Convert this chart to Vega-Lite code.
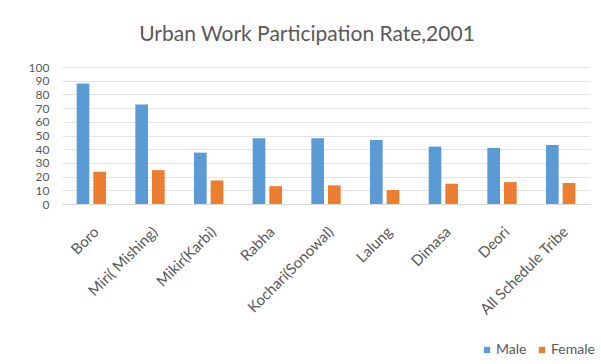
{
  "$schema": "https://vega.github.io/schema/vega-lite/v6.json",
  "autosize": {"type": "none"},
  "width": 528,
  "height": 137,
  "padding": {"left": 62, "top": 67, "right": 11, "bottom": 160},
  "background": "white",
  "title": {
    "text": "Urban Work Participation Rate,2001",
    "font": "Lato",
    "fontSize": 21,
    "fontWeight": "normal",
    "color": "#595959",
    "anchor": "middle",
    "dx": -19,
    "offset": 16
  },
  "data": {
    "values": [
      {"tribe": "Boro", "sex": "Male", "rate": 88},
      {"tribe": "Boro", "sex": "Female", "rate": 23.6},
      {"tribe": "Miri( Mishing)", "sex": "Male", "rate": 72.6},
      {"tribe": "Miri( Mishing)", "sex": "Female", "rate": 24.7},
      {"tribe": "Mikir(Karbi)", "sex": "Male", "rate": 37.5},
      {"tribe": "Mikir(Karbi)", "sex": "Female", "rate": 17.2},
      {"tribe": "Rabha", "sex": "Male", "rate": 48},
      {"tribe": "Rabha", "sex": "Female", "rate": 13},
      {"tribe": "Kochari(Sonowal)", "sex": "Male", "rate": 48},
      {"tribe": "Kochari(Sonowal)", "sex": "Female", "rate": 13.6},
      {"tribe": "Lalung", "sex": "Male", "rate": 46.8},
      {"tribe": "Lalung", "sex": "Female", "rate": 10.2},
      {"tribe": "Dimasa", "sex": "Male", "rate": 41.9},
      {"tribe": "Dimasa", "sex": "Female", "rate": 14.8},
      {"tribe": "Deori", "sex": "Male", "rate": 40.9},
      {"tribe": "Deori", "sex": "Female", "rate": 16},
      {"tribe": "All Schedule Tribe", "sex": "Male", "rate": 43.1},
      {"tribe": "All Schedule Tribe", "sex": "Female", "rate": 15.3}
    ]
  },
  "mark": {"type": "bar"},
  "encoding": {
    "x": {
      "field": "tribe",
      "type": "nominal",
      "sort": null,
      "scale": {"paddingInner": 0.5, "paddingOuter": 0.25},
      "axis": {
        "title": null,
        "labelAngle": -45,
        "labelFont": "Lato",
        "labelFontSize": 15,
        "labelColor": "#595959",
        "labelPadding": 20,
        "labelOverlap": false,
        "ticks": false,
        "domainColor": "#d9d9d9",
        "grid": false
      }
    },
    "xOffset": {
      "field": "sex",
      "type": "nominal",
      "sort": ["Male", "Female"],
      "scale": {"paddingInner": 0.24, "paddingOuter": 0}
    },
    "y": {
      "field": "rate",
      "type": "quantitative",
      "scale": {"domain": [0, 100], "nice": false},
      "axis": {
        "title": null,
        "values": [0, 10, 20, 30, 40, 50, 60, 70, 80, 90, 100],
        "labelOverlap": false,
        "labelFont": "Lato",
        "labelFontSize": 12,
        "labelColor": "#595959",
        "labelPadding": 13,
        "ticks": false,
        "domain": false,
        "gridColor": "#e3e3e3",
        "labelFlush": false
      }
    },
    "color": {
      "field": "sex",
      "type": "nominal",
      "sort": ["Male", "Female"],
      "scale": {"domain": ["Male", "Female"], "range": ["#5b9bd5", "#ed7d31"]},
      "legend": {
        "title": null,
        "orient": "none",
        "direction": "horizontal",
        "legendX": 418,
        "legendY": 276,
        "padding": 0,
        "symbolType": "square",
        "symbolSize": 40,
        "symbolStrokeWidth": 0,
        "labelFont": "Lato",
        "labelFontSize": 14,
        "labelColor": "#595959",
        "columnPadding": 8,
        "labelOffset": 2
      }
    }
  },
  "config": {"view": {"stroke": null}}
}
